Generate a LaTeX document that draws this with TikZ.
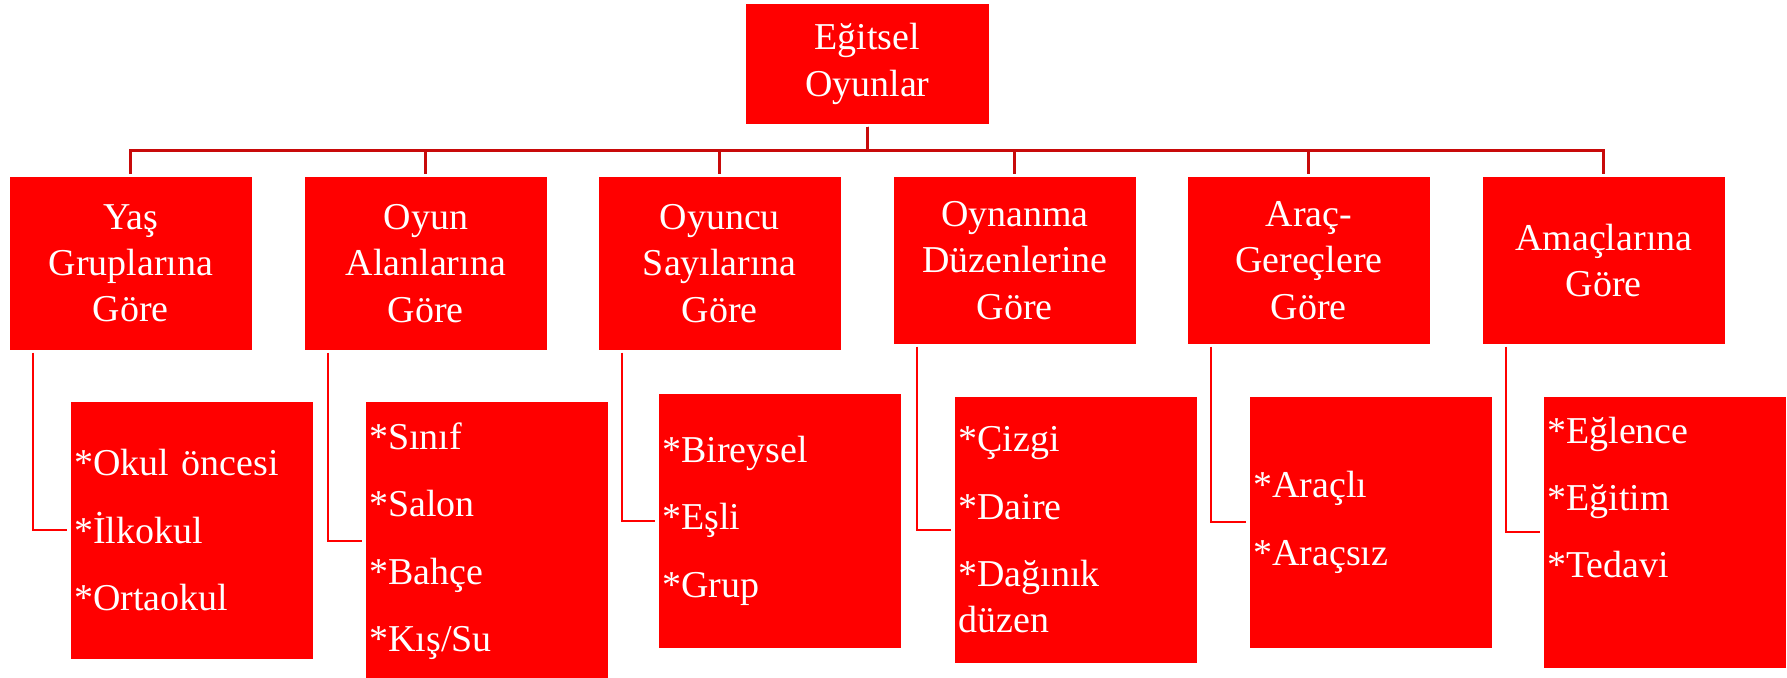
\documentclass[tikz,border=0pt]{standalone}
\usepackage{fontspec}
\setmainfont{Liberation Serif}
\usetikzlibrary{positioning}

\definecolor{boxred}{RGB}{255,0,0}
\definecolor{busred}{RGB}{200,10,10}

\begin{document}
\begin{tikzpicture}[x=0.02cm, y=-0.02cm,
    font=\fontsize{21.6pt}{26.4pt}\selectfont,
    box/.style={fill=boxred, draw=boxred, text=white, anchor=north west, inner sep=0pt},
    head/.style={box, align=center, text width=4.82cm},
    item/.style={box, align=left, text width=4.7cm, inner xsep=0.06cm},
    bus/.style={draw=busred, line width=1.7pt, shorten <=0.06cm, shorten >=0.06cm},
    leaf/.style={draw=red, line width=1.1pt, shorten <=0.06cm, shorten >=0.08cm}]
    \useasboundingbox (0,0) rectangle (1787,678);

    % Top
    \node[head, text width=4.84cm, minimum height=2.38cm] (egitsel) at (746,4) {E\u{g}itsel\\Oyunlar};

    % Groups
    \node[head, minimum height=3.44cm] (yas) at (10,177) {Yaş\\Gruplarına\\Göre};
    \node[head, minimum height=3.44cm] (alan) at (305,177) {Oyun\\Alanlarına\\Göre};
    \node[head, minimum height=3.44cm] (sayi) at (599,177) {Oyuncu\\Sayılarına\\Göre};
    \node[head, minimum height=3.32cm] (duzen) at (894,177) {Oynanma\\Düzenlerine\\Göre};
    \node[head, minimum height=3.32cm] (arac) at (1188,177) {Araç-\\Gereçlere\\Göre};
    \node[head, minimum height=3.32cm] (amac) at (1483,177) {Amaçlarına\\Göre};

    \foreach \c in {yas,alan,sayi,duzen,arac,amac}
        \draw[bus] (egitsel.south) -- ++(0,27) -| (\c.north);

    % Items
    \node[item, minimum height=5.12cm] (yasitem) at (71,402) {*Okul öncesi\\[12pt]*İlkokul\\[12pt]*Ortaokul};
    \node[item, minimum height=5.56cm] (alanitem) at (366,402) {*Sınıf\\[12pt]*Salon\\[12pt]*Bahçe\\[12pt]*Kış/Su};
    \node[item, minimum height=5.06cm] (sayiitem) at (659,394) {*Bireysel\\[12pt]*Eşli\\[12pt]*Grup};
    \node[item, minimum height=5.30cm] (duzenitem) at (955,397) {*Çizgi\\[12pt]*Daire\\[12pt]*Dağınık\\düzen};
    \node[item, minimum height=5.00cm] (aracitem) at (1250,397) {*Araçlı\\[12pt]*Araçsız};
    \node[item, minimum height=5.40cm, text depth=4.1cm] (amacitem) at (1544,397) {*Eğlence\\[12pt]*Eğitim\\[12pt]*Tedavi};

    \foreach \c in {yas,alan,sayi,duzen,arac,amac}
        \draw[leaf] ([xshift=0.46cm]\c.south west) |- (\c item.west);
\end{tikzpicture}
\end{document}
